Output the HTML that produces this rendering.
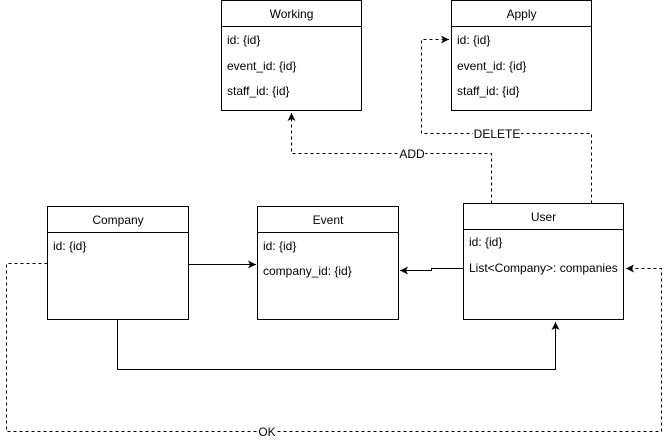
<!DOCTYPE html>
<html><head><style>body{margin:0;background:#fff}svg{display:block}text{font-family:"Liberation Sans",Helvetica,sans-serif;font-size:12px;fill:#000}</style></head><body>
<svg width="670" height="440" viewBox="0 0 670 440" xmlns="http://www.w3.org/2000/svg">
<defs><marker id="a" markerWidth="10" markerHeight="10" refX="8" refY="4" orient="auto" markerUnits="userSpaceOnUse"><path d="M0,0 L8,4 L0,8 L2,4 Z" fill="#000"/></marker></defs>
<g fill="#fff" stroke="#000" stroke-width="1">
<rect x="221.5" y="0.5" width="140" height="110"/><line x1="221.5" y1="26.5" x2="361.5" y2="26.5"/>
<rect x="451.5" y="0.5" width="140" height="110"/><line x1="451.5" y1="26.5" x2="591.5" y2="26.5"/>
<rect x="47.5" y="206.5" width="141" height="113"/><line x1="47.5" y1="232.5" x2="188.5" y2="232.5"/>
<rect x="257.5" y="206.5" width="141" height="113"/><line x1="257.5" y1="232.5" x2="398.5" y2="232.5"/>
<rect x="463.5" y="203.5" width="160" height="116"/><line x1="463.5" y1="229.5" x2="623.5" y2="229.5"/>
</g>
<g fill="none" stroke="#000" stroke-width="1">
<polyline points="188.5,264.5 256,264.5" marker-end="url(#a)"/>
<polyline points="463.5,268.5 431.5,268.5 431.5,270.5 400,270.5" marker-end="url(#a)"/>
<polyline points="117.5,319.5 117.5,369.5 555.5,369.5 555.5,322" marker-end="url(#a)"/>
<g stroke-dasharray="3,3">
<polyline points="491.5,203.5 491.5,153.5 291.5,153.5 291.5,113" marker-end="url(#a)"/>
<polyline points="591.5,203.5 591.5,133.5 421.5,133.5 421.5,39.5 449,39.5" marker-end="url(#a)"/>
<polyline points="47.5,263.5 6.5,263.5 6.5,431.5 661.5,431.5 661.5,268.5 626,268.5" marker-end="url(#a)"/>
</g></g>
<g fill="#fff"><rect x="399" y="147" width="26" height="13"/><rect x="473" y="127" width="48" height="13"/><rect x="257" y="425" width="20" height="13"/></g>
<text x="412" y="158" text-anchor="middle">ADD</text>
<text x="497" y="138" text-anchor="middle">DELETE</text>
<text x="267" y="436" text-anchor="middle">OK</text>
<g text-anchor="middle">
<text x="291.5" y="18">Working</text><text x="521.5" y="18">Apply</text>
<text x="118" y="224">Company</text><text x="328" y="224">Event</text><text x="543.5" y="221">User</text>
</g>
<text x="227" y="44">id: {id}</text><text x="227" y="70">event_id: {id}</text><text x="227" y="95">staff_id: {id}</text>
<text x="457" y="44">id: {id}</text><text x="457" y="70">event_id: {id}</text><text x="457" y="95">staff_id: {id}</text>
<text x="53" y="250">id: {id}</text>
<text x="263" y="250">id: {id}</text><text x="263" y="275">company_id: {id}</text>
<text x="469" y="246">id: {id}</text><text x="469" y="272">List&lt;Company&gt;: companies</text>
</svg></body></html>
